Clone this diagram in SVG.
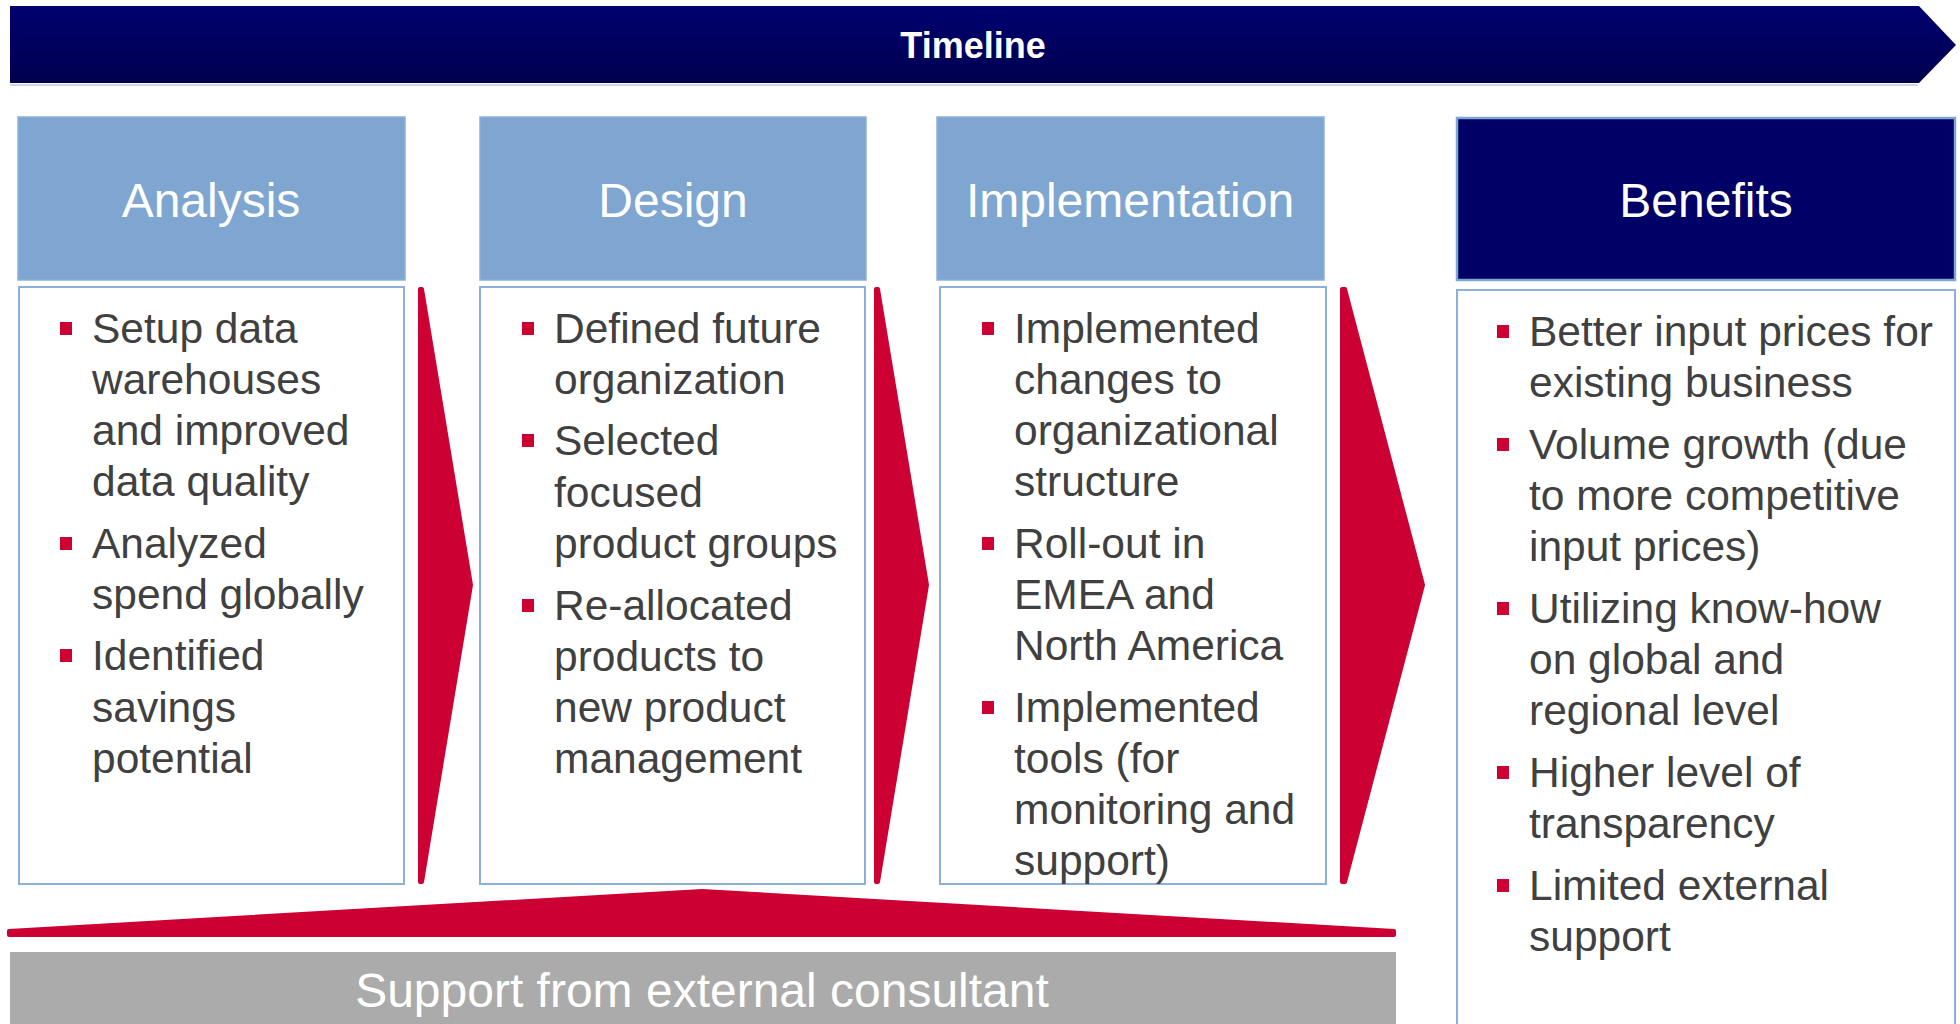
<svg xmlns="http://www.w3.org/2000/svg" width="1960" height="1024" viewBox="0 0 1960 1024">
<defs>
<linearGradient id="navy" x1="0" y1="0" x2="0" y2="1">
<stop offset="0" stop-color="#000070"/>
<stop offset="1" stop-color="#00004e"/>
</linearGradient>
<style>
.hdr{fill:#7ea6d0;stroke:#8db0da;stroke-width:1.5}
.box{fill:#ffffff;stroke:#8db0da;stroke-width:2}
.htxt{font-family:"Liberation Sans",Arial,sans-serif;font-size:48px;fill:#ffffff;text-anchor:middle}
.body{font-family:"Liberation Sans",Arial,sans-serif;font-size:42.5px;fill:#404040}
.bul{fill:#cc0033}
.red{fill:#cc0033;stroke:#cc0033;stroke-width:4;stroke-linejoin:round}
</style>
</defs>
<rect width="1960" height="1024" fill="#ffffff"/>

<g id="timeline">
<polygon points="10,6 1919,6 1956,45 1919,83 10,83" fill="url(#navy)"/>
<line x1="10" y1="85" x2="1918" y2="85" stroke="#d0d4e6" stroke-width="2"/>
<text x="973" y="58" font-family="'Liberation Sans',Arial,sans-serif" font-size="36" font-weight="bold" fill="#ffffff" text-anchor="middle">Timeline</text>
</g>

<g id="analysis">
<rect class="hdr" x="18" y="117" width="387" height="163"/>
<text class="htxt" x="211" y="217">Analysis</text>
<rect class="box" x="19" y="287" width="385" height="597"/>
<rect class="bul" x="60" y="322" width="12" height="13"/>
<rect class="bul" x="60" y="537" width="12" height="13"/>
<rect class="bul" x="60" y="649" width="12" height="13"/>
<text class="body">
<tspan x="92" y="343">Setup data</tspan>
<tspan x="92" y="394">warehouses</tspan>
<tspan x="92" y="445">and improved</tspan>
<tspan x="92" y="496">data quality</tspan>
<tspan x="92" y="558">Analyzed</tspan>
<tspan x="92" y="609">spend globally</tspan>
<tspan x="92" y="670">Identified</tspan>
<tspan x="92" y="722">savings</tspan>
<tspan x="92" y="773">potential</tspan>
</text>
</g>

<g id="design">
<rect class="hdr" x="480" y="117" width="386" height="163"/>
<text class="htxt" x="673" y="217">Design</text>
<rect class="box" x="480" y="287" width="385" height="597"/>
<rect class="bul" x="522" y="322" width="12" height="13"/>
<rect class="bul" x="522" y="434" width="12" height="13"/>
<rect class="bul" x="522" y="599" width="12" height="13"/>
<text class="body">
<tspan x="554" y="343">Defined future</tspan>
<tspan x="554" y="394">organization</tspan>
<tspan x="554" y="455">Selected</tspan>
<tspan x="554" y="507">focused</tspan>
<tspan x="554" y="558">product groups</tspan>
<tspan x="554" y="620">Re-allocated</tspan>
<tspan x="554" y="671">products to</tspan>
<tspan x="554" y="722">new product</tspan>
<tspan x="554" y="773">management</tspan>
</text>
</g>

<g id="implementation">
<rect class="hdr" x="937" y="117" width="387" height="163"/>
<text class="htxt" x="1130" y="217">Implementation</text>
<rect class="box" x="940" y="287" width="386" height="597"/>
<rect class="bul" x="982" y="322" width="12" height="13"/>
<rect class="bul" x="982" y="537" width="12" height="13"/>
<rect class="bul" x="982" y="701" width="12" height="13"/>
<text class="body">
<tspan x="1014" y="343">Implemented</tspan>
<tspan x="1014" y="394">changes to</tspan>
<tspan x="1014" y="445">organizational</tspan>
<tspan x="1014" y="496">structure</tspan>
<tspan x="1014" y="558">Roll-out in</tspan>
<tspan x="1014" y="609">EMEA and</tspan>
<tspan x="1014" y="660">North America</tspan>
<tspan x="1014" y="722">Implemented</tspan>
<tspan x="1014" y="773">tools (for</tspan>
<tspan x="1014" y="824">monitoring and</tspan>
<tspan x="1014" y="875">support)</tspan>
</text>
</g>

<g id="benefits">
<rect x="1457" y="118" width="498" height="162" fill="#000066" stroke="#7ea6d0" stroke-width="2.5"/>
<text class="htxt" x="1706" y="217">Benefits</text>
<rect class="box" x="1457" y="290" width="498" height="740"/>
<rect class="bul" x="1497" y="325" width="12" height="13"/>
<rect class="bul" x="1497" y="438" width="12" height="13"/>
<rect class="bul" x="1497" y="602" width="12" height="13"/>
<rect class="bul" x="1497" y="766" width="12" height="13"/>
<rect class="bul" x="1497" y="879" width="12" height="13"/>
<text class="body">
<tspan x="1529" y="346">Better input prices for</tspan>
<tspan x="1529" y="397">existing business</tspan>
<tspan x="1529" y="459">Volume growth (due</tspan>
<tspan x="1529" y="510">to more competitive</tspan>
<tspan x="1529" y="561">input prices)</tspan>
<tspan x="1529" y="623">Utilizing know-how</tspan>
<tspan x="1529" y="674">on global and</tspan>
<tspan x="1529" y="725">regional level</tspan>
<tspan x="1529" y="787">Higher level of</tspan>
<tspan x="1529" y="838">transparency</tspan>
<tspan x="1529" y="900">Limited external</tspan>
<tspan x="1529" y="951">support</tspan>
</text>
</g>

<g id="support">
<rect x="10" y="952" width="1386" height="80" fill="#ababab"/>
<text class="htxt" x="702" y="1007">Support from external consultant</text>
</g>

<g id="connectors">
<polygon class="red" points="420,289 422,289 471,585 422,882 420,882"/>
<polygon class="red" points="876,289 878,289 927,585 878,882 876,882"/>
<polygon class="red" points="1342,289 1345,289 1423,585 1345,882 1342,882"/>
<polygon class="red" points="9,935 9,931 702,891 1394,931 1394,935"/>
</g>
</svg>
